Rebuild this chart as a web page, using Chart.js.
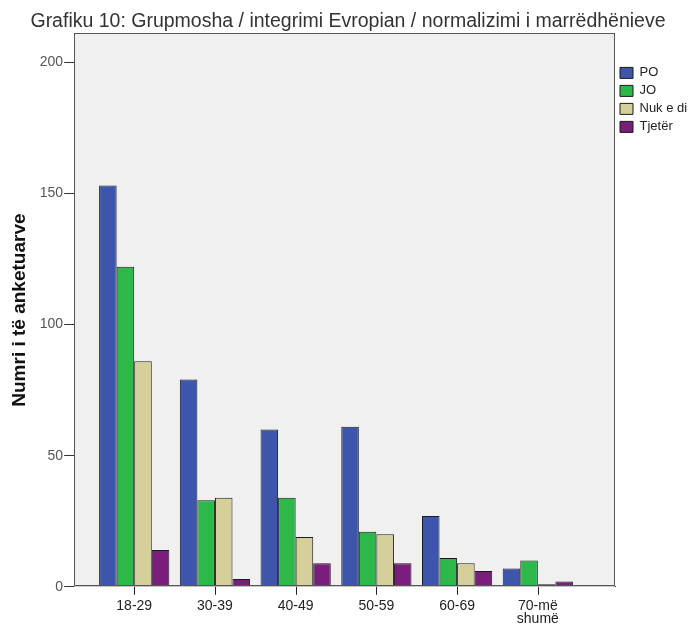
<!DOCTYPE html>
<html>
<head>
    <meta charset="UTF-8">
    <title>Grafiku 10</title>
    <script src="https://cdn.jsdelivr.net/npm/chart.js"></script>
    <style>
        body { margin: 0; background: #fff; }
        #wrap { width: 688px; height: 624px; }
    </style>
</head>
<body>
    <div id="wrap"><canvas id="chart" width="688" height="624"></canvas></div>

    <script>
        // Te dhenat e grafikut
        var categories = ['18-29', '30-39', '40-49', '50-59', '60-69', ['70-më', 'shumë']];
        var seriesNames = ['PO', 'JO', 'Nuk e di', 'Tjetër'];
        var valuesPO = [153, 79, 60, 61, 27, 7];
        var valuesJO = [122, 33, 34, 21, 11, 10];
        var valuesNukEDi = [86, 34, 19, 20, 9, 1];
        var valuesTjeter = [14, 3, 9, 9, 6, 2];
        var yTicks = [0, 50, 100, 150, 200];

        var colors = ['#3d56ab', '#2db84a', '#d5cf9a', '#7a1e7c'];
        var allValues = [valuesPO, valuesJO, valuesNukEDi, valuesTjeter];

        // kthen vlerat ne pika {x, y}
        function toPoints(arr) {
            return arr.map(function(v, i) { return { x: i, y: v }; });
        }

        var datasets = seriesNames.map(function(name, k) {
            return {
                label: name,
                data: toPoints(allValues[k]),
                backgroundColor: colors[k],
                borderColor: '#1b1b1b',
                borderWidth: 1,
                borderSkipped: false,
                categoryPercentage: 0.87,
                barPercentage: 1.0
            };
        });

        // sfondi gri, korniza dhe vijat e ndarjes poshte boshtit x
        var plotBox = {
            id: 'plotBox',
            beforeDatasetsDraw: function(chart) {
                var a = chart.chartArea, c = chart.ctx;
                c.save();
                c.fillStyle = '#f0f0f0';
                c.fillRect(a.left, a.top, a.right - a.left, a.bottom - a.top);
                c.restore();
            },
            afterDraw: function(chart) {
                var a = chart.chartArea, c = chart.ctx;
                var sx = chart.scales.x;
                c.save();
                c.strokeStyle = '#555';
                c.lineWidth = 1;
                c.strokeRect(Math.round(a.left) + 0.5, Math.round(a.top) + 0.5,
                    Math.round(a.right - a.left) - 1, Math.round(a.bottom - a.top) - 1);
                // tick marks te boshtit x
                c.strokeStyle = '#222';
                c.beginPath();
                for (var i = 0; i < sx.ticks.length; i++) {
                    var px = Math.round(sx.getPixelForTick(i)) + 0.5;
                    c.moveTo(px, a.bottom);
                    c.lineTo(px, a.bottom + 8);
                }
                c.stroke();
                c.restore();
            }
        };

        var ctx = document.getElementById('chart').getContext('2d');
        var chart = new Chart(ctx, {
            type: 'bar',
            data: { datasets: datasets },
            plugins: [plotBox],
            options: {
                responsive: false,
                animation: false,
                layout: { padding: { left: 8, right: 0, top: 0, bottom: -6 } },
                plugins: {
                    title: {
                        display: true,
                        text: 'Grafiku 10: Grupmosha / integrimi Evropian / normalizimi i marrëdhënieve',
                        color: '#333',
                        font: { family: 'Liberation Sans, Arial', size: 19.5, weight: 'normal' },
                        padding: { top: 10, bottom: 0 }
                    },
                    legend: {
                        position: 'right',
                        align: 'start',
                        maxWidth: 73,
                        title: { display: true, text: '', padding: { top: 47, bottom: 0 } },
                        labels: {
                            boxWidth: 13,
                            boxHeight: 11,
                            padding: 5,
                            color: '#222',
                            font: { family: 'Liberation Sans, Arial', size: 13 }
                        }
                    },
                    tooltip: { enabled: false }
                },
                scales: {
                    x: {
                        type: 'linear',
                        offset: false,
                        min: -0.744,
                        max: 5.956,
                        afterBuildTicks: function(scale) {
                            scale.ticks = categories.map(function(c, i) { return { value: i }; });
                        },
                        ticks: {
                            autoSkip: false,
                            maxRotation: 0,
                            color: '#222',
                            padding: 5,
                            font: { family: 'Liberation Sans, Arial', size: 14, lineHeight: 0.9 },
                            callback: function(value) { return categories[value]; }
                        },
                        grid: {
                            offset: false, drawOnChartArea: false, drawTicks: true, tickLength: 8,
                            color: '#222', tickColor: 'rgba(0,0,0,0)'
                        },
                        border: { display: true, color: '#333' }
                    },
                    y: {
                        min: 0,
                        max: 211,
                        afterBuildTicks: function(scale) {
                            scale.ticks = yTicks.map(function(v) { return { value: v }; });
                        },
                        ticks: {
                            color: '#555',
                            padding: 1,
                            font: { family: 'Liberation Sans, Arial', size: 14 }
                        },
                        grid: { drawOnChartArea: false, drawTicks: true, tickLength: 10, color: '#333' },
                        border: { display: true, color: '#333' },
                        title: {
                            display: true,
                            text: 'Numri i të anketuarve',
                            color: '#111',
                            font: { family: 'Liberation Sans, Arial', size: 19, weight: 'bold' },
                            padding: { top: 0, bottom: 8 }
                        }
                    }
                }
            }
        });
    </script>
</body>
</html>
